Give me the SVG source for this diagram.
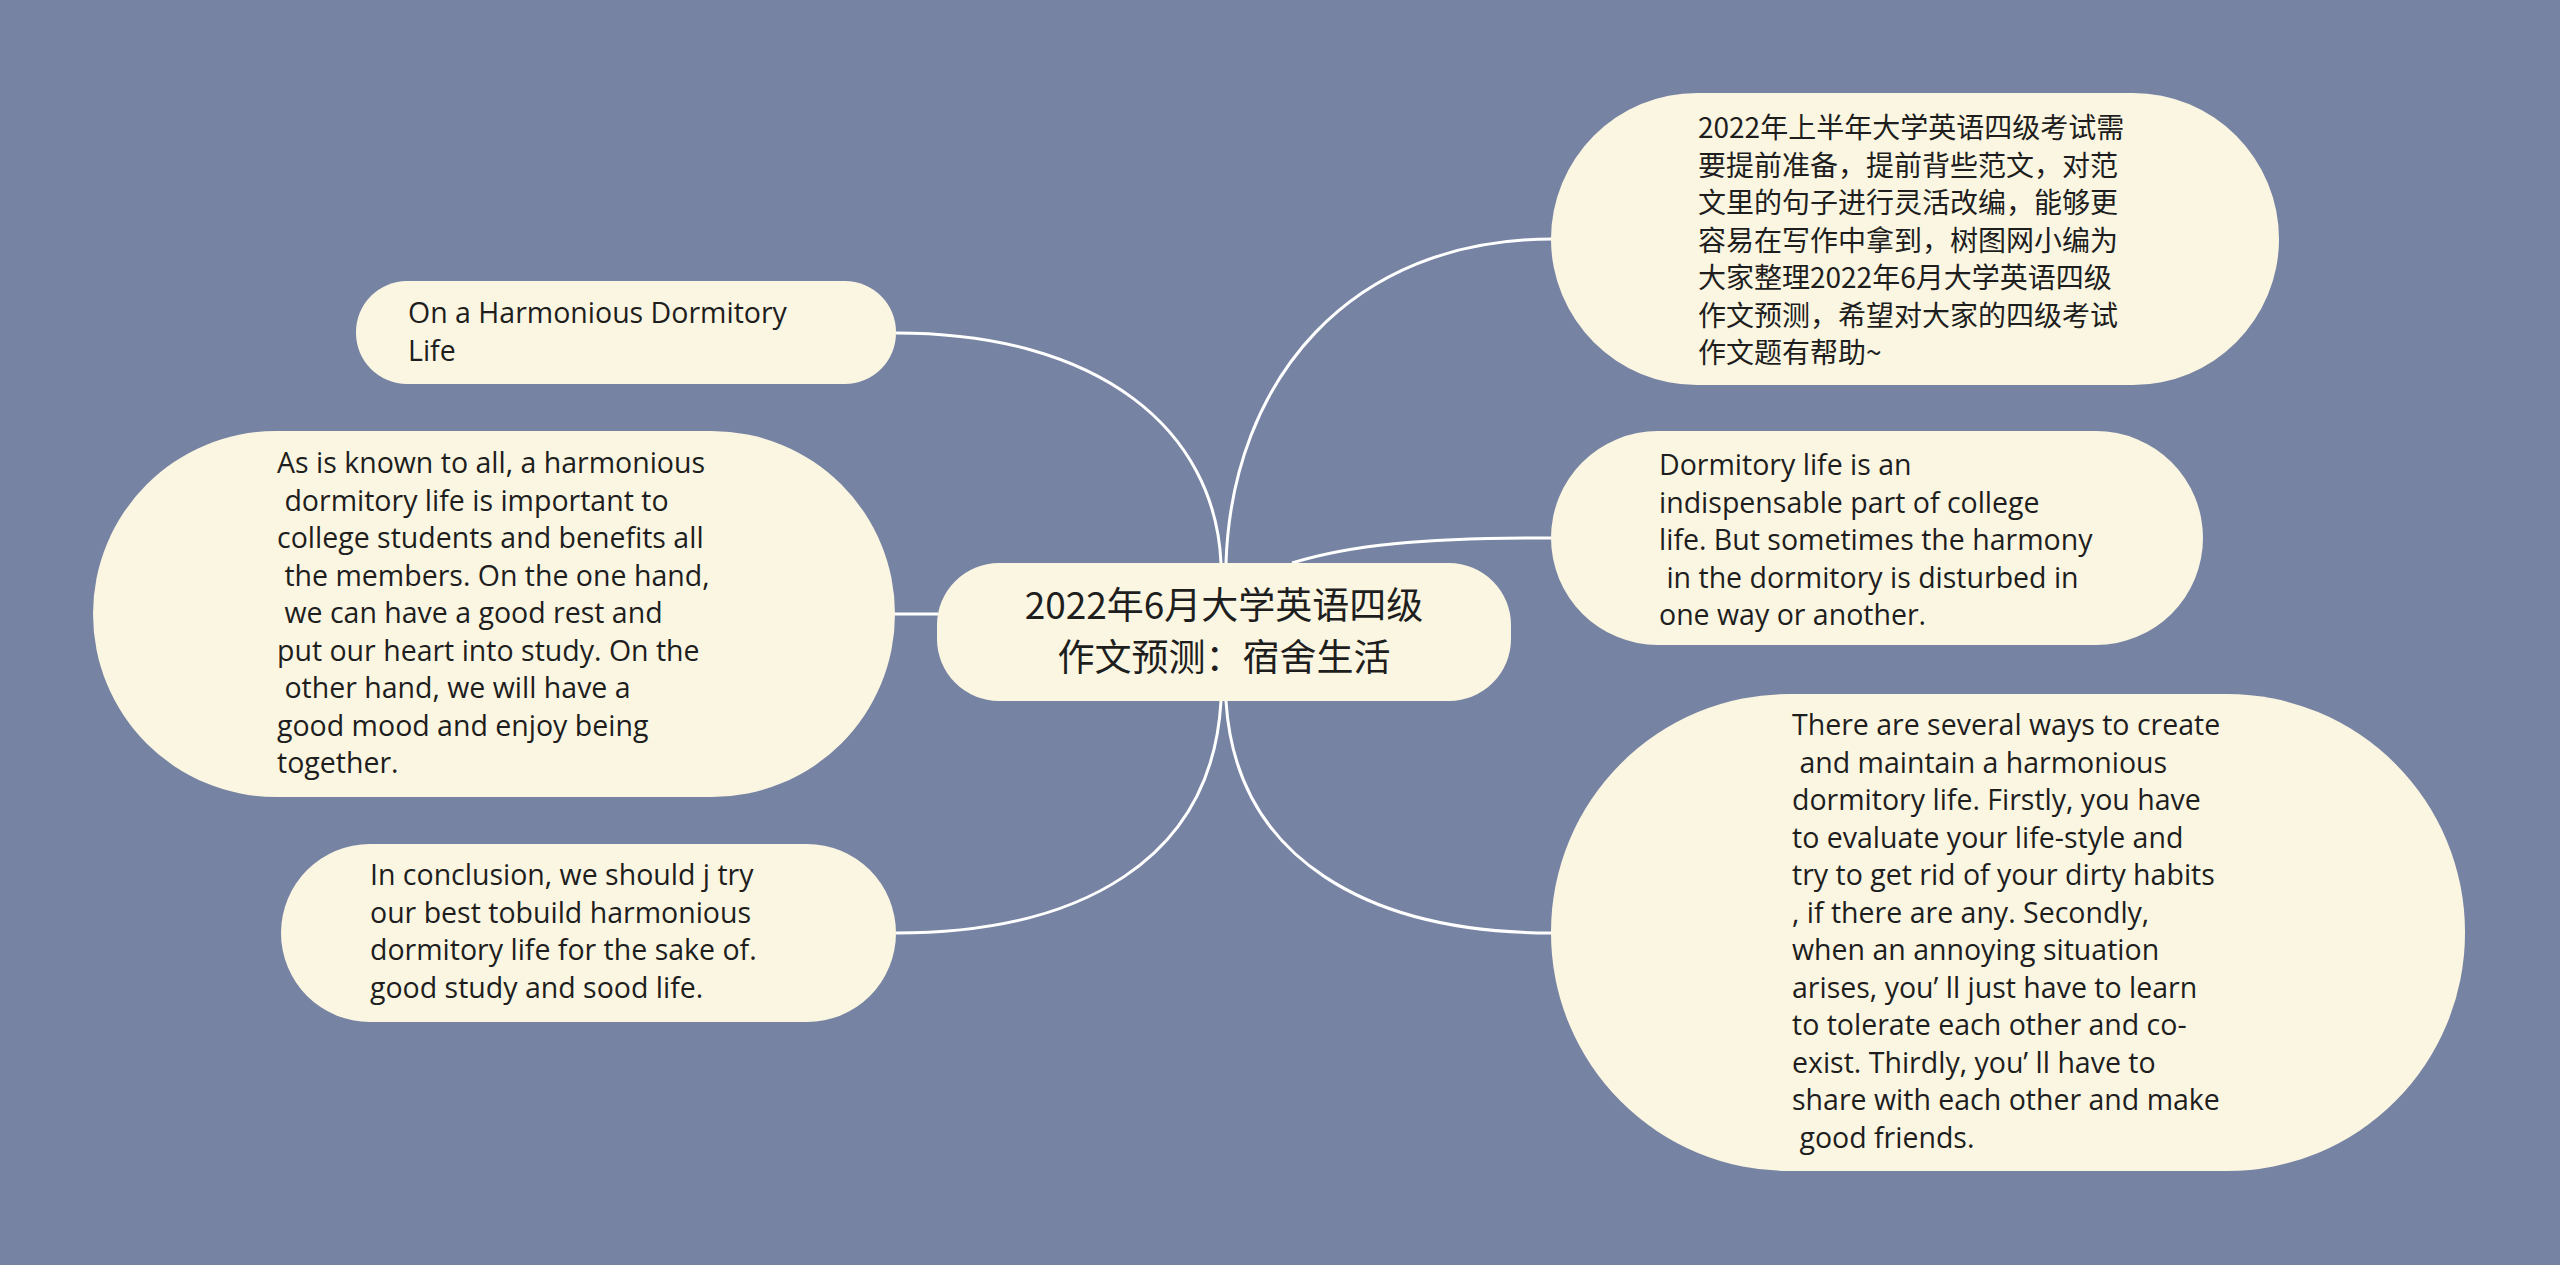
<svg xmlns="http://www.w3.org/2000/svg" width="2560" height="1265" viewBox="0 0 2560 1265">
<style>
.bg{fill:#7783a3}
.node{fill:#fbf6e1}
.link{fill:none;stroke:#ffffff;stroke-width:3}
.t{font-family:"Open Sans","Noto Sans CJK SC",sans-serif;font-size:28.5px;fill:#1e1e1e;white-space:pre}
.cjk{font-family:"Noto Sans CJK SC",sans-serif;font-size:28px;fill:#1e1e1e}
.c{font-family:"Noto Sans CJK SC",sans-serif;font-size:37px;fill:#1e1e1e;text-anchor:middle}
</style>
<rect class="bg" x="0" y="0" width="2560" height="1265"/>
<g id="connectors">
<path class="link" d="M1221 563 C1215 430 1100 333 896 333"/>
<path class="link" d="M1226 563 C1232 380 1350 239 1552 239"/>
<path class="link" d="M1292 563 C1350 545 1420 538 1552 538"/>
<path class="link" d="M938 614 L895 614"/>
<path class="link" d="M1221 701 C1212 860 1080 933 896 933"/>
<path class="link" d="M1226 701 C1236 860 1370 933 1552 933"/>
</g>
<g id="center">
<rect class="node" x="937" y="563" width="574" height="138" rx="62" ry="62"/>
<text class="c" x="1224" y="619">2022年6月大学英语四级</text>
<text class="c" x="1224" y="671">作文预测：宿舍生活</text>
</g>
<g id="r1">
<rect class="node" x="1551" y="93" width="728" height="292" rx="146" ry="146"/>
<text class="cjk" x="1698"><tspan x="1698" y="138">2022年上半年大学英语四级考试需</tspan><tspan x="1698" y="175.5">要提前准备，提前背些范文，对范</tspan><tspan x="1698" y="213">文里的句子进行灵活改编，能够更</tspan><tspan x="1698" y="250.5">容易在写作中拿到，树图网小编为</tspan><tspan x="1698" y="288">大家整理2022年6月大学英语四级</tspan><tspan x="1698" y="325.5">作文预测，希望对大家的四级考试</tspan><tspan x="1698" y="363">作文题有帮助~</tspan></text>
</g>
<g id="r2">
<rect class="node" x="1551" y="431" width="652" height="214" rx="107" ry="107"/>
<text class="t"><tspan x="1659" y="475">Dormitory life is an</tspan><tspan x="1659" y="512.5">indispensable part of college</tspan><tspan x="1659" y="550">life. But sometimes the harmony</tspan><tspan x="1659" y="587.5"> in the dormitory is disturbed in</tspan><tspan x="1659" y="625">one way or another.</tspan></text>
</g>
<g id="r3">
<rect class="node" x="1551" y="694" width="914" height="477" rx="238" ry="238"/>
<text class="t"><tspan x="1792" y="735">There are several ways to create</tspan><tspan x="1792" y="772.5"> and maintain a harmonious</tspan><tspan x="1792" y="810">dormitory life. Firstly, you have</tspan><tspan x="1792" y="847.5">to evaluate your life-style and</tspan><tspan x="1792" y="885">try to get rid of your dirty habits</tspan><tspan x="1792" y="922.5">, if there are any. Secondly,</tspan><tspan x="1792" y="960">when an annoying situation</tspan><tspan x="1792" y="997.5">arises, you’ ll just have to learn</tspan><tspan x="1792" y="1035">to tolerate each other and co-</tspan><tspan x="1792" y="1072.5">exist. Thirdly, you’ ll have to</tspan><tspan x="1792" y="1110">share with each other and make</tspan><tspan x="1792" y="1147.5"> good friends.</tspan></text>
</g>
<g id="l1">
<rect class="node" x="356" y="281" width="540" height="103" rx="51" ry="51"/>
<text class="t"><tspan x="408" y="323">On a Harmonious Dormitory</tspan><tspan x="408" y="360.5">Life</tspan></text>
</g>
<g id="l2">
<rect class="node" x="93" y="431" width="802" height="366" rx="183" ry="183"/>
<text class="t"><tspan x="277" y="473">As is known to all, a harmonious</tspan><tspan x="277" y="510.5"> dormitory life is important to</tspan><tspan x="277" y="548">college students and benefits all</tspan><tspan x="277" y="585.5"> the members. On the one hand,</tspan><tspan x="277" y="623"> we can have a good rest and</tspan><tspan x="277" y="660.5">put our heart into study. On the</tspan><tspan x="277" y="698"> other hand, we will have a</tspan><tspan x="277" y="735.5">good mood and enjoy being</tspan><tspan x="277" y="773">together.</tspan></text>
</g>
<g id="l3">
<rect class="node" x="281" y="844" width="615" height="178" rx="89" ry="89"/>
<text class="t"><tspan x="370" y="885">In conclusion, we should j try</tspan><tspan x="370" y="922.5">our best tobuild harmonious</tspan><tspan x="370" y="960">dormitory life for the sake of.</tspan><tspan x="370" y="997.5">good study and sood life.</tspan></text>
</g>
</svg>
